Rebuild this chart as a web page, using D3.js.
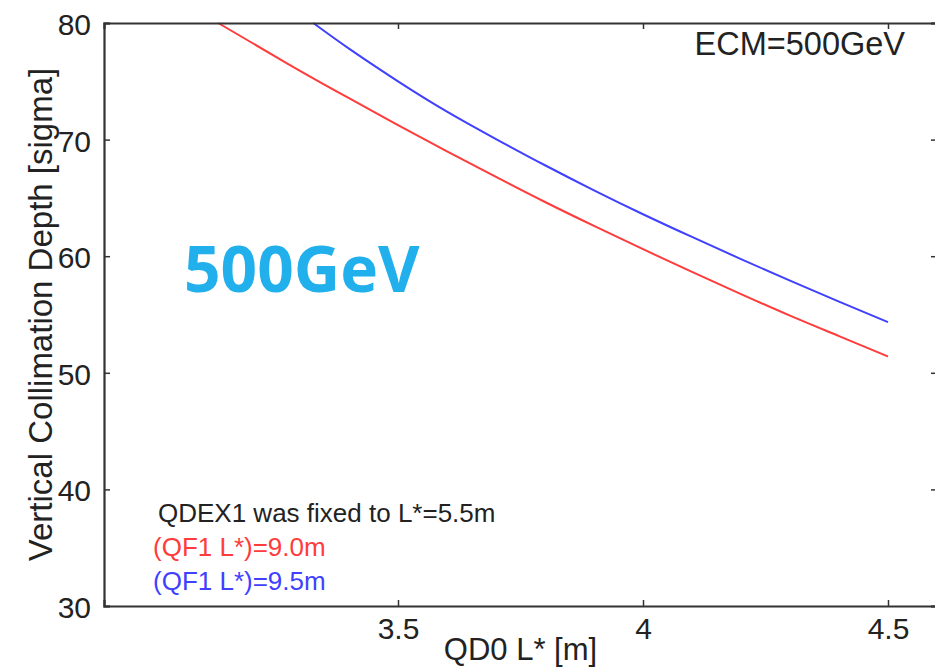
<!DOCTYPE html>
<html>
<head>
<meta charset="utf-8">
<script src="https://cdn.jsdelivr.net/npm/d3@7"></script>
<style>
  body { margin: 0; background: #fff; }
  svg { display: block; font-family: "Liberation Sans", Arial, sans-serif; }
</style>
</head>
<body>
<div id="chart"></div>
<script>
// QD0 L* [m] vs vertical collimation depth [sigma]
const redX = [3.133, 3.2, 3.3, 3.4, 3.5, 3.6, 3.7, 3.8, 3.9, 4.0, 4.1, 4.2, 4.3, 4.4, 4.5];
const redY = [80, 78.35, 75.9, 73.55, 71.25, 69.0, 66.8, 64.65, 62.6, 60.6, 58.65, 56.75, 54.9, 53.15, 51.4];
const blueX = [3.327, 3.4, 3.5, 3.6, 3.7, 3.8, 3.9, 4.0, 4.1, 4.2, 4.3, 4.4, 4.5];
const blueY = [80, 77.8, 75.0, 72.4, 70.05, 67.8, 65.65, 63.6, 61.65, 59.75, 57.9, 56.1, 54.35];
const xTicks = [3.5, 4, 4.5];
const yTicks = [30, 40, 50, 60, 70, 80];
const legendLines = ["QDEX1 was fixed to L*=5.5m", "(QF1 L*)=9.0m", "(QF1 L*)=9.5m"];

const W = 935, H = 668;
const plot = { left: 104, right: 937, top: 23, bottom: 606 };

const svg = d3.select("#chart").append("svg")
  .attr("width", W)
  .attr("height", H);

const x = d3.scaleLinear().domain([2.9, 4.6]).range([plot.left, plot.right]);
const y = d3.scaleLinear().domain([30, 80]).range([plot.bottom, plot.top]);

const axisColor = "#333";
const red = "#ff3b3b";
const blue = "#4040ff";

// curves
const line = d3.line()
  .x(d => x(d[0]))
  .y(d => y(d[1]))
  .curve(d3.curveNatural);

svg.append("path")
  .datum(redX.map((v, i) => [v, redY[i]]))
  .attr("d", line)
  .attr("fill", "none")
  .attr("stroke", red)
  .attr("stroke-width", 2);

svg.append("path")
  .datum(blueX.map((v, i) => [v, blueY[i]]))
  .attr("d", line)
  .attr("fill", "none")
  .attr("stroke", blue)
  .attr("stroke-width", 2);

// axes (ticks point inward)
const bottomAxis = svg.append("g")
  .attr("transform", `translate(0,${plot.bottom})`)
  .call(d3.axisBottom(x).tickValues(xTicks).tickSize(-6).tickPadding(12).tickFormat(d3.format("")));
const topAxis = svg.append("g")
  .attr("transform", `translate(0,${plot.top})`)
  .call(d3.axisTop(x).tickValues(xTicks).tickSize(-6).tickFormat(""));
const leftAxis = svg.append("g")
  .attr("transform", `translate(${plot.left},0)`)
  .call(d3.axisLeft(y).tickValues(yTicks).tickSize(-6).tickPadding(13));
const rightAxis = svg.append("g")
  .attr("transform", `translate(${plot.right},0)`)
  .call(d3.axisRight(y).tickValues(yTicks).tickSize(-6).tickFormat(""));

[bottomAxis, topAxis, leftAxis, rightAxis].forEach(g => {
  g.select(".domain").attr("stroke", axisColor).attr("stroke-width", 2.2);
  g.selectAll(".tick line").attr("stroke", axisColor).attr("stroke-width", 1.5);
  g.selectAll("text")
    .attr("fill", "#222")
    .style("font-family", "'Liberation Sans', Arial, sans-serif")
    .style("font-size", "30px");
});
bottomAxis.selectAll("text").attr("dy", "0.71em");
leftAxis.selectAll("text").attr("dy", "0.38em");

// axis titles
svg.append("text")
  .attr("x", (plot.left + plot.right) / 2)
  .attr("y", 660)
  .attr("text-anchor", "middle")
  .attr("fill", "#222")
  .style("font-size", "31px")
  .text("QD0 L* [m]");

svg.append("text")
  .attr("transform", `translate(52,${(plot.top + plot.bottom) / 2}) rotate(-90)`)
  .attr("text-anchor", "middle")
  .attr("fill", "#222")
  .style("font-size", "33px")
  .text("Vertical Collimation Depth [sigma]");

// annotations
svg.append("text")
  .attr("x", 905)
  .attr("y", 55)
  .attr("text-anchor", "end")
  .attr("fill", "#222")
  .style("font-size", "32.5px")
  .text("ECM=500GeV");

svg.append("text")
  .attr("x", 184)
  .attr("y", 292)
  .attr("fill", "#22b0ec")
  .style("font-family", "'Open Sans', 'Noto Sans', sans-serif")
  .style("font-weight", "bold")
  .style("font-size", "64px")
  .text("500GeV");

const legendColors = ["#222", red, blue];
const legendX = [158, 153, 153];
legendLines.forEach((t, i) => {
  svg.append("text")
    .attr("x", legendX[i])
    .attr("y", 522 + i * 34)
    .attr("fill", legendColors[i])
    .style("font-size", "26px")
    .text(t);
});
</script>
</body>
</html>
